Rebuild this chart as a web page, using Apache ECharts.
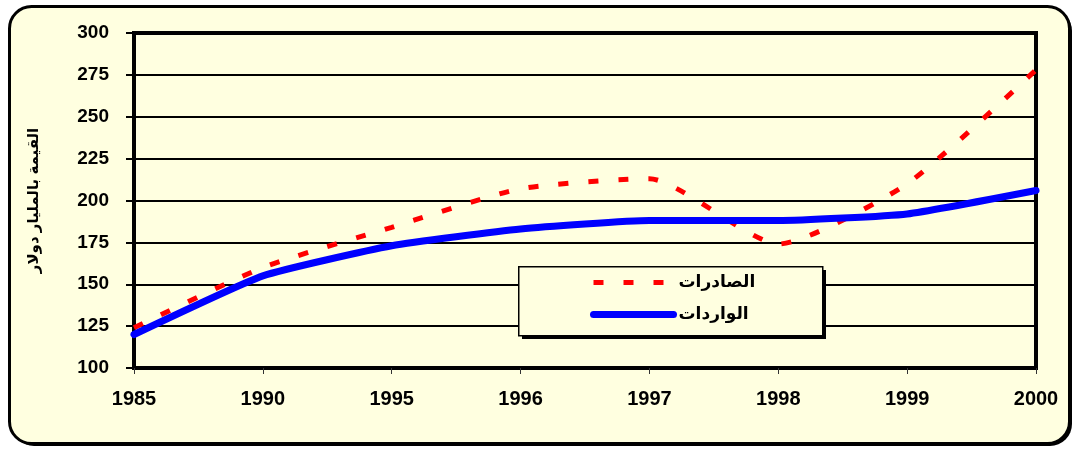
<!DOCTYPE html>
<html>
<head>
<meta charset="utf-8">
<script src="https://cdn.jsdelivr.net/npm/echarts@6/dist/echarts.min.js"></script>
<style>
    html, body {margin: 0; padding: 0; background: #fff;}
    #chart {width: 1076px; height: 450px;}
</style>
</head>
<body>
<div id="chart"></div>
<script>
// data
const years = ['1985', '1990', '1995', '1996', '1997', '1998', '1999', '2000'];
const exportsData = [124, 160, 184, 207, 213, 174, 210, 278];
const importsData = [120, 155, 173, 183, 188, 188, 192, 206];
const exportsName = 'الصادرات';
const importsName = 'الواردات';
const yAxisName = 'القيمة بالمليار دولار';

const font = 'Arial, "Liberation Sans", "DejaVu Sans", sans-serif';
const cream = '#FFFFE0';

const chart = echarts.init(document.getElementById('chart'));
const option = {
    backgroundColor: '#ffffff',
    animation: false,
    textStyle: {fontFamily: font},
    graphic: [
        // outer frame shadow + frame
        {
            type: 'rect', left: 12, top: 9, z: -12,
            shape: {width: 1060, height: 437, r: 22},
            style: {fill: '#000'}
        },
        {
            type: 'rect', left: 8, top: 5, z: -11,
            shape: {width: 1060, height: 437, r: 22},
            style: {fill: cream, stroke: '#000', lineWidth: 3}
        },
        // legend box shadow + box
        {
            type: 'rect', left: 522, top: 270, z: 5,
            shape: {width: 304, height: 69},
            style: {fill: '#000'}
        },
        {
            type: 'rect', left: 518, top: 266, z: 6,
            shape: {width: 304, height: 69},
            style: {fill: cream, stroke: '#000', lineWidth: 1.5}
        }
    ],
    grid: {
        left: 134,
        right: 40,
        top: 33,
        bottom: 82,
        show: true,
        borderColor: '#000',
        borderWidth: 4,
        backgroundColor: 'transparent'
    },
    legend: {
        orient: 'vertical',
        left: 590,
        top: 274,
        padding: 0,
        z: 10,
        itemWidth: 80,
        itemHeight: 14,
        itemGap: 15,
        itemStyle: {opacity: 0},
        textStyle: {fontFamily: font, fontSize: 17, fontWeight: 'bold', color: '#000'},
        data: [
            {name: exportsName, lineStyle: {width: 5}},
            {name: importsName, lineStyle: {width: 7}}
        ]
    },
    xAxis: {
        type: 'category',
        boundaryGap: false,
        data: years,
        axisLine: {lineStyle: {color: '#000', width: 4}},
        axisTick: {show: true, length: 6, lineStyle: {color: '#333', width: 1}},
        axisLabel: {margin: 21, fontSize: 20, fontWeight: 'bold', color: '#000', fontFamily: font},
        splitLine: {show: false}
    },
    yAxis: {
        type: 'value',
        min: 100,
        max: 300,
        interval: 25,
        name: yAxisName,
        nameLocation: 'middle',
        nameGap: 93,
        nameTextStyle: {fontSize: 15, fontWeight: 'bold', color: '#000', fontFamily: font},
        axisLine: {show: true, lineStyle: {color: '#000', width: 4}},
        axisTick: {show: true, length: 8, lineStyle: {color: '#000', width: 2}},
        axisLabel: {margin: 25, fontSize: 19, fontWeight: 'bold', color: '#000', fontFamily: font},
        splitLine: {show: true, lineStyle: {color: '#000', width: 2}}
    },
    series: [
        {
            name: exportsName,
            type: 'line',
            data: exportsData,
            smooth: 0.2,
            symbol: 'none',
            color: '#ff0000',
            lineStyle: {color: '#ff0000', width: 5, type: [10, 20]},
            z: 3
        },
        {
            name: importsName,
            type: 'line',
            data: importsData,
            smooth: 0.15,
            symbol: 'none',
            color: '#0000ff',
            lineStyle: {color: '#0000ff', width: 7, cap: 'round'},
            z: 4
        }
    ]
};
chart.setOption(option);
</script>
</body>
</html>
